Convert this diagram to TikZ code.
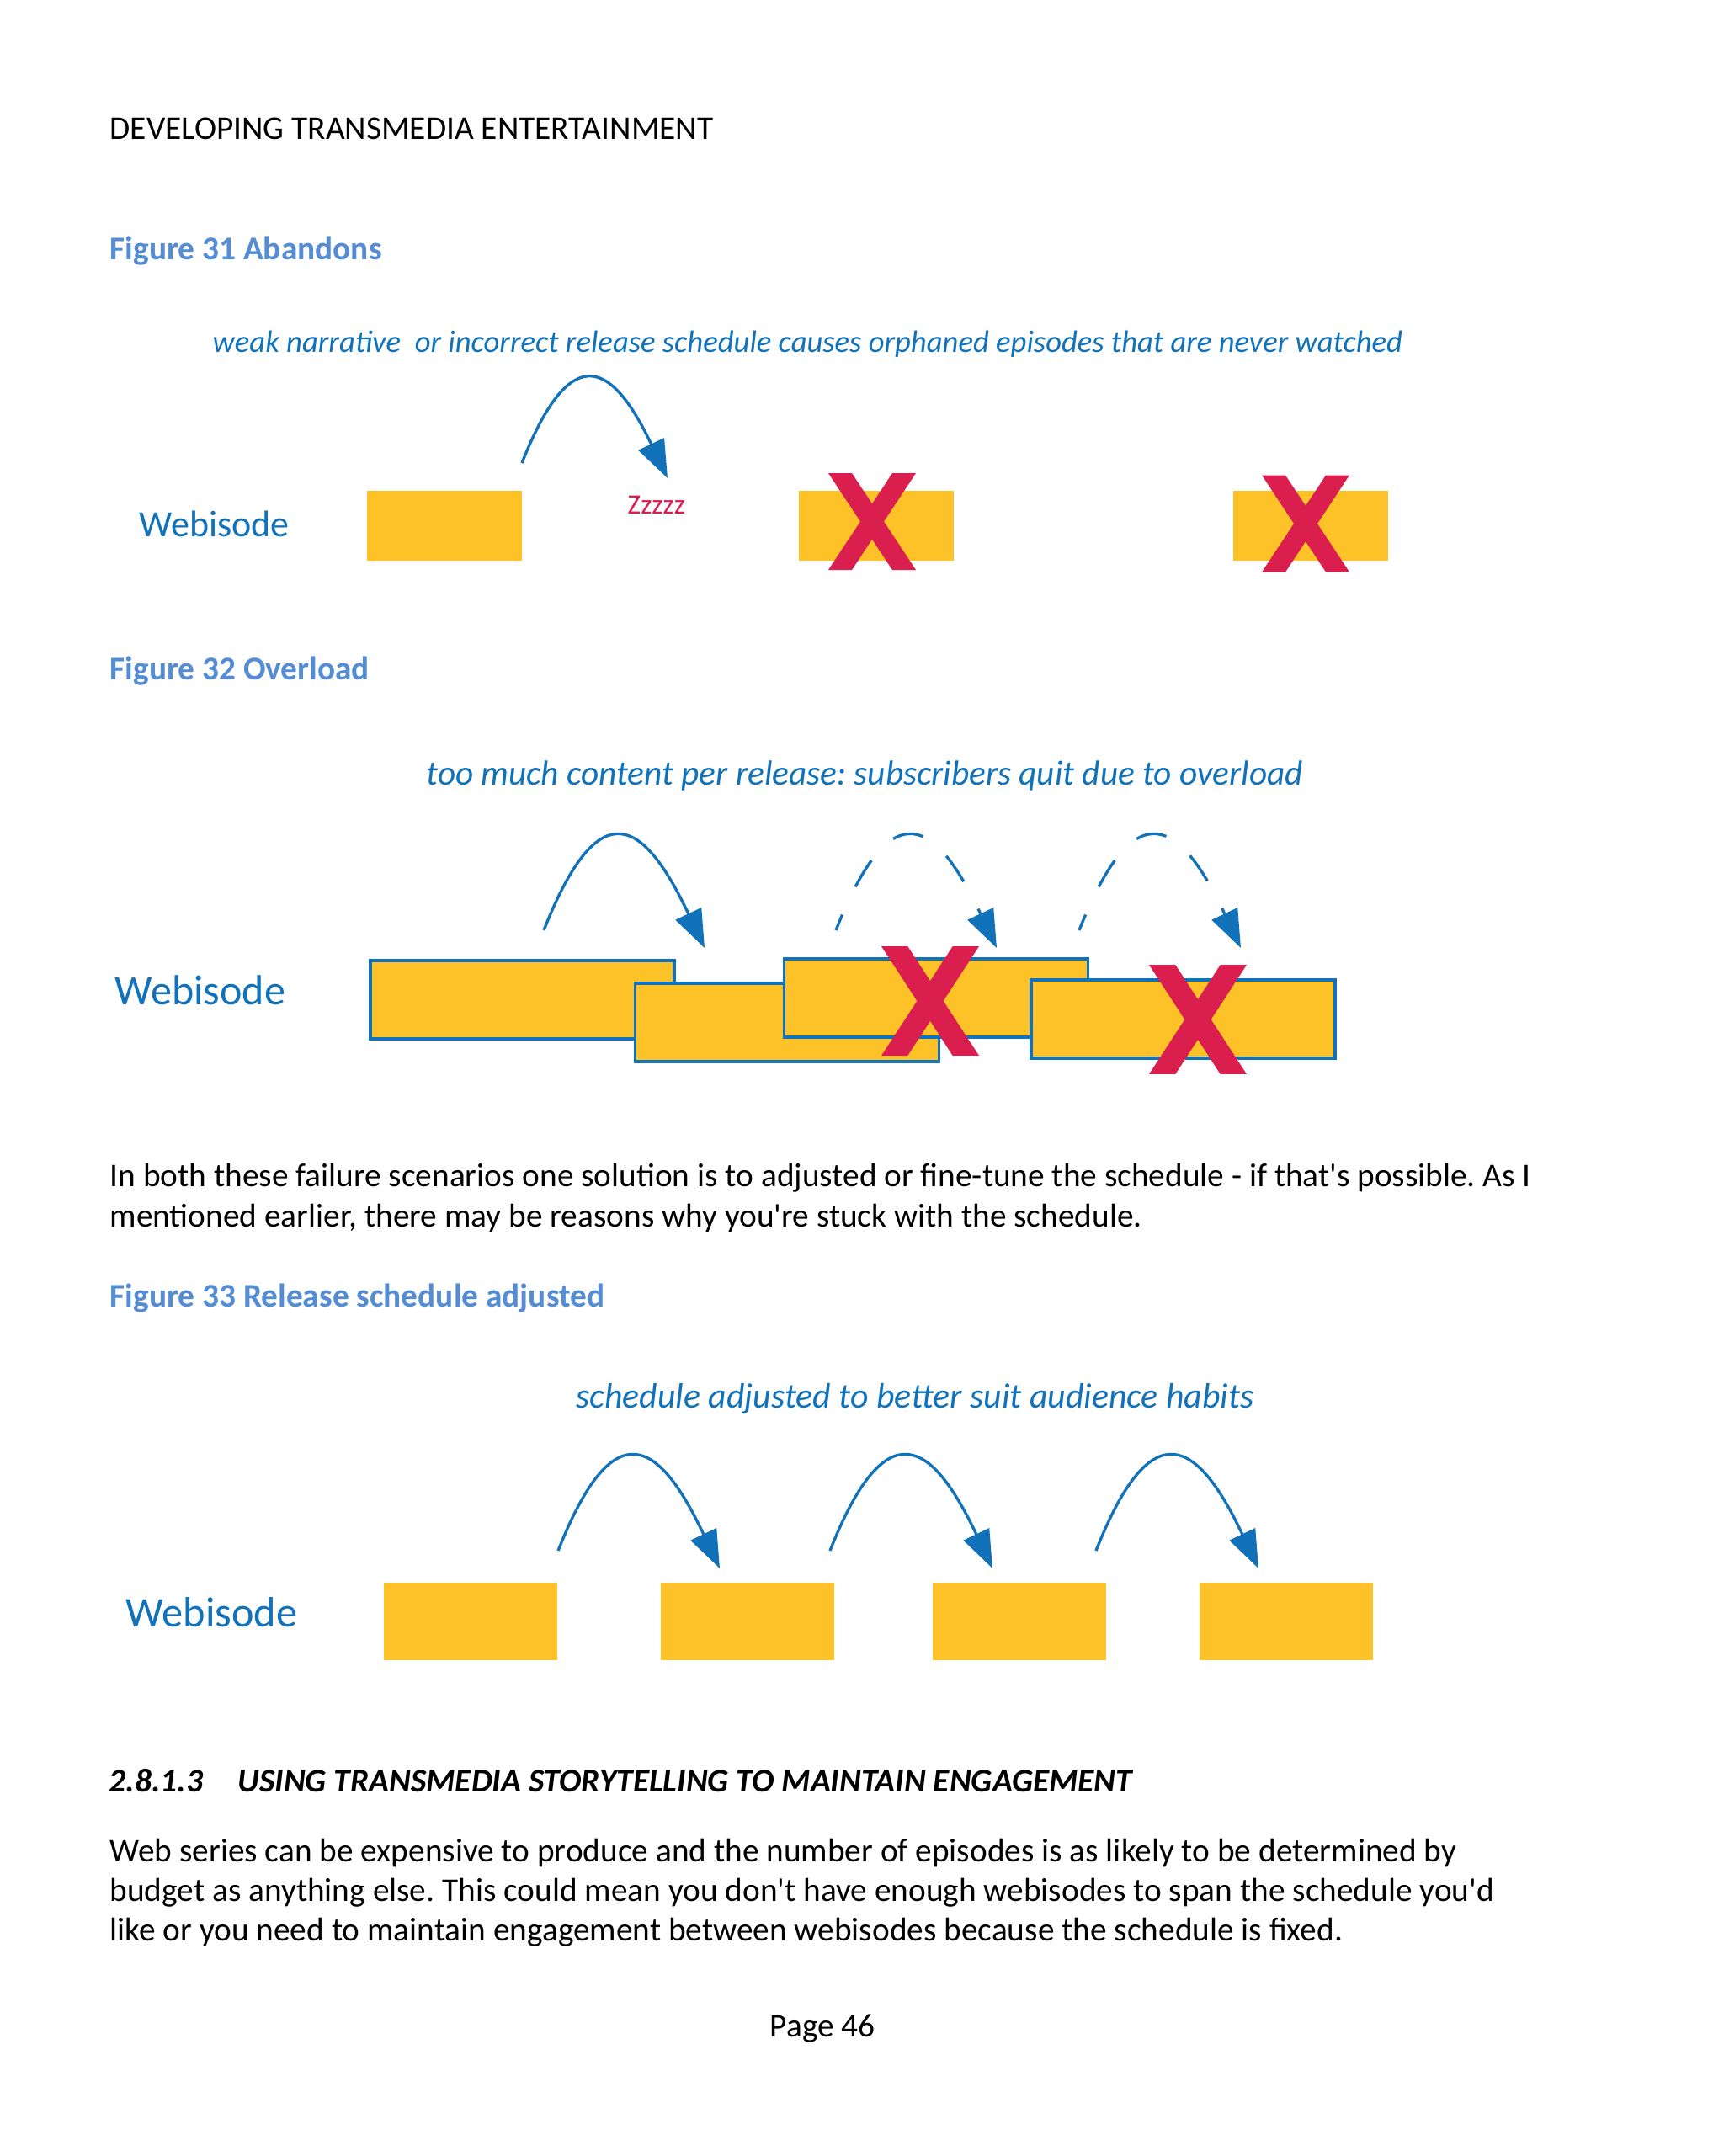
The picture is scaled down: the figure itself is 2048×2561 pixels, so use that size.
\documentclass[tikz,border=0pt]{standalone}
\usepackage{fontspec}
\setmainfont{Carlito}
\usetikzlibrary{arrows.meta}

\definecolor{webblue}{RGB}{17,114,186}
\definecolor{capblue}{RGB}{84,141,212}
\definecolor{epyellow}{RGB}{252,194,40}
\definecolor{xred}{RGB}{218,31,78}

\newcommand{\bodysize}{\fontsize{11.8}{14}\selectfont}
\newcommand{\q}{\textquotesingle}

\tikzset{
  txt/.style={anchor=base west, inner sep=0pt, font=\bodysize},
  figcap/.style={txt, capblue, font=\bfseries\bodysize},
  note/.style={txt, webblue, font=\itshape\fontsize{11}{13}\selectfont},
  rowlabel/.style={txt, webblue, font=\fontsize{13.2}{15}\selectfont},
  episode/.style={fill=epyellow, inner sep=0pt, outer sep=0pt},
  overlap/.style={episode, draw=webblue, line width=1pt,
                  minimum width=108.3pt, minimum height=27.9pt},
  hop/.style={webblue, line width=1pt, -{Triangle[length=13.5pt,width=10pt]}},
  skipped/.style={hop, dash pattern=on 11pt off 11pt, dash phase=5pt},
  crossmark/.pic={
    \fill[xred] (-52,-57.5) -- (-24,-57.5) -- (52,57.5) -- (24,57.5) -- cycle;
    \fill[xred] (24,-57.5) -- (52,-57.5) -- (-24,57.5) -- (-52,57.5) -- cycle;
  }
}

\begin{document}
\frenchspacing
\begin{tikzpicture}[x=0.3pt, y=-0.3pt]
  \useasboundingbox[fill=white] (0,0) rectangle (2048,2561);

  % Running head
  \node[txt] (head) at (130,165) {DEVELOPING TRANSMEDIA ENTERTAINMENT};

  % Figure 31: abandons
  \node[figcap] (cap31) at (130,308) {Figure 31 Abandons};
  \node[note] (note31) at (252,418)
       {weak narrative\ \ or incorrect release schedule causes orphaned episodes that are never watched};
  \node[rowlabel] (web31) at (165,637) {Webisode};
  \node[txt, xred, font=\fontsize{10}{12}\selectfont] (zz) at (745,610) {Zzzzz};
  \foreach \n/\x in {1/528, 2/1040.5, 3/1556.5} {
    \node[episode, minimum width=55.2pt, minimum height=24.9pt] (e\n) at (\x,624.5) {};
  }
  \pic at (1036,619.5) {crossmark};
  \pic at (1551,622) {crossmark};
  \coordinate (s31) at (620,550);
  \coordinate (t31) at (793,568);
  \draw[hop] (s31) .. controls +(60,-152) and +(-64,-134) .. (t31);

  % Figure 32: overload
  \node[figcap] (cap32) at (130,807) {Figure 32 Overload};
  \node[note, font=\itshape\fontsize{12.4}{14}\selectfont] (note32) at (506,932)
       {too much content per release: subscribers quit due to overload};
  \node[rowlabel, font=\fontsize{15}{17}\selectfont] (web32) at (136,1193) {Webisode};
  \node[overlap] (o1) at (620.5,1187.5) {};
  \node[overlap] (o2) at (935,1214.5) {};
  \node[overlap] (o3) at (1112,1185.5) {};
  \node[overlap] (o4) at (1405.5,1210.5) {};
  \pic[xscale=1.115, yscale=1.13] at (1105,1189) {crossmark};
  \pic[xscale=1.115, yscale=1.13] at (1423,1211) {crossmark};
  \coordinate (s321) at (646,1105);
  \coordinate (t321) at (837,1126);
  \coordinate (s322) at (993,1105);
  \coordinate (t322) at (1184,1126);
  \coordinate (s323) at (1282,1105);
  \coordinate (t323) at (1474,1126);
  \draw[hop] (s321) .. controls +(67,-170) and +(-71,-150) .. (t321);
  \draw[skipped] (s322) .. controls +(67,-170) and +(-71,-150) .. (t322);
  \draw[skipped] (s323) .. controls +(67,-170) and +(-71,-150) .. (t323);

  % Paragraph between figures
  \node[txt] (p1a) at (130,1409)
       {In both these failure scenarios one solution is to adjusted or fine-tune the schedule - if that\q s possible. As I};
  \node[txt] (p1b) at (130,1457)
       {mentioned earlier, there may be reasons why you\q re stuck with the schedule.};

  % Figure 33: schedule adjusted
  \node[figcap] (cap33) at (130,1552) {Figure 33 Release schedule adjusted};
  \node[note, font=\itshape\fontsize{12.55}{14}\selectfont] (note33) at (684,1672)
       {schedule adjusted to better suit audience habits};
  \node[rowlabel, font=\fontsize{15.1}{17}\selectfont] (web33) at (149,1932) {Webisode};
  \foreach \n/\x in {1/559, 2/887.5, 3/1211, 4/1528} {
    \node[episode, minimum width=61.8pt, minimum height=27.6pt] (f\n) at (\x,1926) {};
  }
  \foreach \s/\t in {663/855, 986/1179, 1302/1495} {
    \coordinate (s33) at (\s,1842);
    \coordinate (t33) at (\t,1863);
    \draw[hop] (s33) .. controls +(67,-170) and +(-71,-150) .. (t33);
  }

  % Section heading and text
  \node[txt, font=\bfseries\itshape\bodysize] (secnum) at (129,2128) {2.8.1.3};
  \node[txt, font=\bfseries\itshape\bodysize] (sectitle) at (282,2128)
       {USING TRANSMEDIA STORYTELLING TO MAINTAIN ENGAGEMENT};
  \node[txt] (p2a) at (130,2211)
       {Web series can be expensive to produce and the number of episodes is as likely to be determined by};
  \node[txt] (p2b) at (130,2258)
       {budget as anything else. This could mean you don\q t have enough webisodes to span the schedule you\q d};
  \node[txt] (p2c) at (130,2305)
       {like or you need to maintain engagement between webisodes because the schedule is fixed.};

  % Page number
  \node[txt] (page) at (914,2419) {Page 46};
\end{tikzpicture}
\end{document}
